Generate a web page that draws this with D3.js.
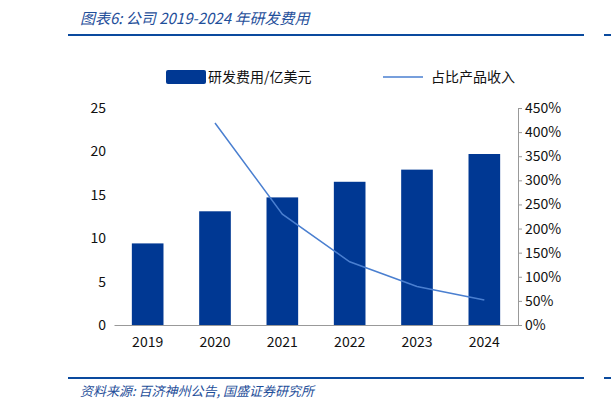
<!DOCTYPE html><html><head><meta charset="utf-8"><script src="https://cdn.jsdelivr.net/npm/d3@7"></script>
<style>body{margin:0;background:#fff}text{font-family:"Noto Sans CJK SC",sans-serif}</style></head><body><svg id="c" width="611" height="410"></svg><script>
const years=["2019","2020","2021","2022","2023","2024"];
const rd=[9.4,13.1,14.7,16.5,17.9,19.7];
const ratioYears=["2020","2021","2022","2023","2024"];
const ratio=[4.19,2.30,1.31,0.80,0.52];
const leftTicks=[0,5,10,15,20,25];
const rightTicks=[0,.5,1,1.5,2,2.5,3,3.5,4,4.5];
const svg=d3.select("#c");
const blue="#003893",lblue="#4a7fd0";
svg.append("text").attr("x",80).attr("y",24).attr("font-size",15).attr("font-style","italic").attr("fill","#1f4f9a").text("图表6:  公司 2019-2024 年研发费用");
svg.append("rect").attr("x",68).attr("y",34).attr("width",516).attr("height",2).attr("fill","#0a4a9e");
svg.append("rect").attr("x",604).attr("y",34).attr("width",7).attr("height",2).attr("fill","#0a4a9e");
svg.append("rect").attr("x",68).attr("y",377).attr("width",516).attr("height",2).attr("fill","#0a4a9e");
svg.append("rect").attr("x",604).attr("y",377).attr("width",7).attr("height",2).attr("fill","#0a4a9e");
svg.append("text").attr("x",80).attr("y",396).attr("font-size",13).attr("font-style","italic").attr("fill","#1f4f9a").text("资料来源:  百济神州公告,  国盛证券研究所");
const x=d3.scaleBand().domain(years).range([114,518]).paddingInner(0.53).paddingOuter(0.265);
const yl=d3.scaleLinear().domain([0,25]).range([325,108]);
const yr=d3.scaleLinear().domain([0,4.5]).range([325,108]);
svg.append("g").attr("transform","translate(0,325)").call(d3.axisBottom(x).tickSizeOuter(0).tickSize(0).tickPadding(12)).call(g=>{g.select(".domain").attr("stroke","#999");g.selectAll("text").attr("font-size",14).attr("fill","#111");});
svg.append("g").attr("transform","translate(114,0)").call(d3.axisLeft(yl).tickValues(leftTicks).tickSize(0).tickPadding(8)).call(g=>{g.select(".domain").remove();g.selectAll("text").attr("font-size",14).attr("fill","#111");});
svg.append("g").attr("transform","translate(518,0)").call(d3.axisRight(yr).tickValues(rightTicks).tickFormat(d3.format(".0%")).tickSize(4).tickSizeOuter(0).tickPadding(3)).call(g=>{g.select(".domain").attr("stroke","#999");g.selectAll("line").attr("stroke","#999");g.selectAll("text").attr("font-size",14).attr("fill","#111");});
svg.selectAll(".bar").data(rd).join("rect").attr("x",(d,i)=>x(years[i])).attr("width",x.bandwidth()).attr("y",d=>yl(d)).attr("height",d=>325-yl(d)).attr("fill",blue);
const xc=d=>x(d)+x.bandwidth()/2;
svg.append("path").datum(ratio).attr("fill","none").attr("stroke",lblue).attr("stroke-width",1.5).attr("d",d3.line().x((d,i)=>xc(ratioYears[i])).y(d=>yr(d)));
svg.append("rect").attr("x",166).attr("y",70).attr("width",40).attr("height",14).attr("rx",2).attr("fill",blue);
svg.append("text").attr("x",208).attr("y",82).attr("font-size",14).attr("fill","#111").text("研发费用/亿美元");
svg.append("line").attr("x1",383).attr("x2",423).attr("y1",77).attr("y2",77).attr("stroke",lblue).attr("stroke-width",1.5);
svg.append("text").attr("x",431).attr("y",82).attr("font-size",14).attr("fill","#111").text("占比产品收入");
</script></body></html>
